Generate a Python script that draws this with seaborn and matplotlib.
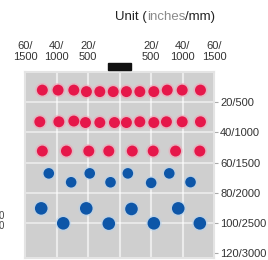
import pandas as pd
import seaborn as sns
import matplotlib.pyplot as plt
from matplotlib.patches import Rectangle

# dot positions (x: inches left/right of the sensor, y: inches down)
red1_x = [-49, -39, -29, -21, -12.5, -4, 4.4, 12.9, 21.8, 30.3, 39.8, 51.4]
red1_y = [12, 12, 12, 13, 13, 13, 13, 13, 13, 12, 12, 12]
red2_x = [-50.6, -38.5, -29, -21.6, -12.5, -3.2, 4.4, 12.9, 21.8, 29.8, 39.8, 51.4]
red2_y = [33, 33, 32.5, 33.5, 33.5, 33.5, 33.5, 33, 33.5, 33, 33, 33]
red3_x = [-49, -33.7, -19.5, -6.8, 8.1, 21.4, 35.6, 51]
red3_y = [52.4, 52.4, 52.4, 52.4, 52.4, 52.4, 52.4, 52.4]
blue1_x = [-44.9, -30.7, -18.9, -5.7, 5.3, 20.1, 31.6, 45.1]
blue1_y = [67.2, 73.1, 67.2, 73.1, 67.2, 73.5, 67.2, 73]
blue2_x = [-49.7, -35.7, -21.1, -6.8, 7.6, 21.8, 37.3, 51]
blue2_y = [90.4, 100.3, 90.4, 100.5, 90.8, 100.3, 90.4, 100.3]

x_ticks = [-60, -40, -20, 20, 40, 60]
x_labels = ["60/\n1500", "40/\n1000", "20/\n500", "20/\n500", "40/\n1000", "60/\n1500"]
y_ticks = [20, 40, 60, 80, 100, 120]
y_labels = ["20/500", "40/1000", "60/1500", "80/2000", "100/2500", "120/3000"]
sensor_x = 0

red = pd.DataFrame({"x": red1_x + red2_x + red3_x, "y": red1_y + red2_y + red3_y})
blue_small = pd.DataFrame({"x": blue1_x, "y": blue1_y})
blue_big = pd.DataFrame({"x": blue2_x, "y": blue2_y})

sns.set_style("white")
plt.rcParams["font.family"] = ["Liberation Sans", "DejaVu Sans"]

fig = plt.figure(figsize=(2.68, 2.60), dpi=100)
ax = fig.add_axes([25 / 268, 2 / 260, 189 / 268, 186 / 260])
ax.set_facecolor("#cfcfcf")

for v in [-40, -20, 0, 20, 40]:
    ax.axvline(v, color="white", lw=1.5, alpha=0.6, zorder=1)
for v in [20, 40, 60, 80, 100]:
    ax.axhline(v, color="white", lw=1.2, alpha=0.6, zorder=1)

sns.scatterplot(data=red, x="x", y="y", ax=ax, s=105, color="#f2a0b4", alpha=0.55,
                edgecolor="none", zorder=2, legend=False)
sns.scatterplot(data=red, x="x", y="y", ax=ax, s=62, color="#e6174a",
                edgecolor="none", zorder=3, legend=False)
sns.scatterplot(data=blue_small, x="x", y="y", ax=ax, s=95, color="#b4d0ec", alpha=0.55,
                edgecolor="none", zorder=2, legend=False)
sns.scatterplot(data=blue_small, x="x", y="y", ax=ax, s=58, color="#0d56a8",
                edgecolor="none", zorder=3, legend=False)
sns.scatterplot(data=blue_big, x="x", y="y", ax=ax, s=130, color="#b4d0ec", alpha=0.55,
                edgecolor="none", zorder=2, legend=False)
sns.scatterplot(data=blue_big, x="x", y="y", ax=ax, s=82, color="#0d56a8",
                edgecolor="none", zorder=3, legend=False)

# sensor on top edge
ax.add_patch(Rectangle((sensor_x - 7.5, -5.8), 15, 4.6, color="#111111",
                       clip_on=False, zorder=5))

ax.set_xlim(-60, 60)
ax.set_ylim(123.3, 0)
ax.set_xlabel("")
ax.set_ylabel("")

ax.set_xticks(x_ticks)
ax.set_xticklabels(x_labels, fontsize=8, color="#333333", linespacing=1.1)
ax.xaxis.tick_top()
ax.tick_params(axis="x", length=0, pad=7)

ax.set_yticks(y_ticks)
ax.set_yticklabels(y_labels, fontsize=8, color="#333333")
ax.yaxis.tick_right()
ax.tick_params(axis="y", length=3, width=0.8, color="#aaaaaa", pad=1.5, right=True, left=False)

for s in ax.spines.values():
    s.set_color("#e4e4e4")
    s.set_linewidth(1.5)

# title with grey "inches"
t1 = fig.text(115 / 268, 1 - 20 / 260, "Unit (", fontsize=9.5, color="#222222", va="baseline")
t2 = ax.annotate("inches", xycoords=t1, xy=(1, 0), va="bottom", fontsize=9.5,
                 color="#8a8a8a", annotation_clip=False)
ax.annotate("/mm)", xycoords=t2, xy=(1, 0), va="bottom", fontsize=9.5,
            color="#222222", annotation_clip=False)

# clipped text at the far left edge of the picture
fig.text(4 / 268, 1 - 221 / 260, "0\n0", fontsize=7, color="#444444",
         ha="right", va="center", linespacing=1.1)

fig.savefig("out.png", dpi=100)
